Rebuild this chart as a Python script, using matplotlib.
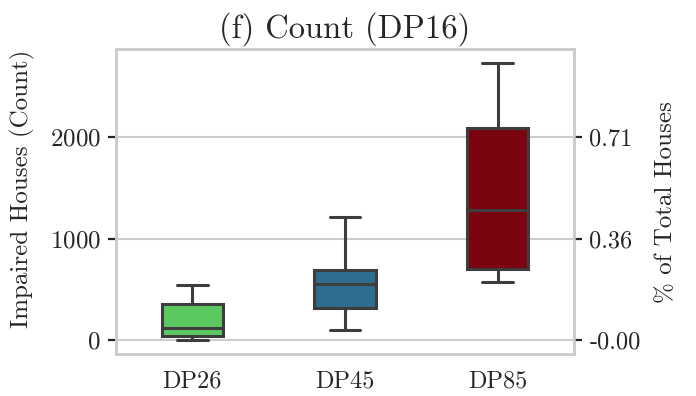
import matplotlib
matplotlib.use("Agg")
import matplotlib.pyplot as plt
import seaborn as sns

sns.set_style("whitegrid")
plt.rcParams['font.family'] = ['cmr10', 'DejaVu Serif']
plt.rcParams['axes.formatter.use_mathtext'] = True

scenarios = ["DP26", "DP45", "DP85"]
whis_lo = [5, 100, 570]
q1 = [42, 320, 697]
median = [118, 550, 1287]
q3 = [352, 688, 2092]
whis_hi = [543, 1215, 2732]
colors = ["#5cc862", "#2e6c90", "#7a0510"]

left_ticks = [0, 1000, 2000]
right_labels = ["-0.00", "0.36", "0.71"]

stats = []
for i, name in enumerate(scenarios):
    stats.append({"label": name, "whislo": whis_lo[i], "q1": q1[i], "med": median[i],
                  "q3": q3[i], "whishi": whis_hi[i], "fliers": []})

fig = plt.figure(figsize=(6.96, 3.96), dpi=100)
ax = fig.add_axes([0.1667, 0.106, 0.658, 0.770])

edge = "#3d3d3d"
lw = 2.2
bp = ax.bxp(stats, positions=range(len(scenarios)), widths=0.4, patch_artist=True,
            showfliers=False,
            boxprops=dict(edgecolor=edge, linewidth=lw),
            whiskerprops=dict(color=edge, linewidth=lw),
            capprops=dict(color=edge, linewidth=lw),
            medianprops=dict(color=edge, linewidth=lw))
for patch, c in zip(bp["boxes"], colors):
    patch.set_facecolor(c)

ax.set_xlim(-0.5, 2.5)
lo, hi = min(whis_lo), max(whis_hi)
pad = (hi - lo) * 0.05
ax.set_ylim(lo - pad - 5, hi + pad)
ax.set_yticks(left_ticks)
ax.set_xticks(range(len(scenarios)))
ax.set_xticklabels(scenarios)
ax.xaxis.grid(False)
ax.yaxis.grid(True, color="#cccccc", linewidth=1.5)
for s in ax.spines.values():
    s.set_color("#cccccc")
    s.set_linewidth(1.8)

ax.tick_params(axis="y", which="major", left=True, length=6, width=1.6,
               color="#262626", labelsize=18, labelcolor="#262626", pad=5)
ax.tick_params(axis="x", labelsize=17.5, labelcolor="#262626", pad=8, bottom=False)
ax.set_ylabel("Impaired Houses (Count)", fontsize=18, color="#262626")
ax.yaxis.set_label_coords(-0.177, 0.54)
ax.set_title("(f) Count (DP16)", fontsize=23.5, color="#262626", pad=8)

ax2 = ax.twinx()
ax2.set_ylim(ax.get_ylim())
ax2.set_yticks(left_ticks)
ax2.set_yticklabels(right_labels)
ax2.grid(False)
for s in ax2.spines.values():
    s.set_color("#cccccc")
    s.set_linewidth(1.8)
ax2.tick_params(axis="y", right=True, length=6, width=1.6, color="#262626",
                labelsize=17.5, labelcolor="#262626", pad=5)
ax2.set_ylabel("% of Total Houses", fontsize=18, color="#262626", labelpad=10)

fig.savefig("out.png", dpi=100)
